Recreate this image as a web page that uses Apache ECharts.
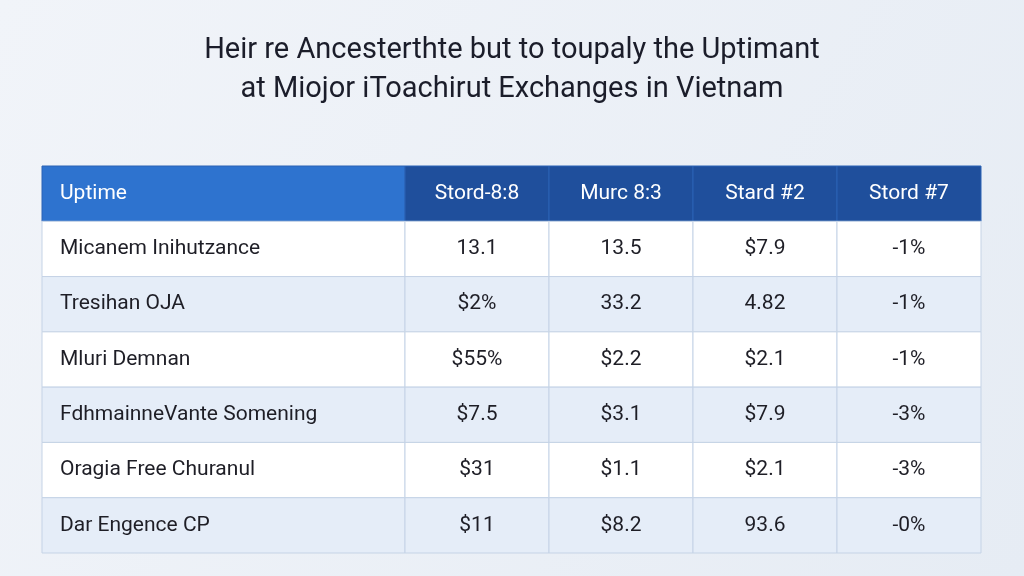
<!DOCTYPE html>
<html><head><meta charset="utf-8">
<script src="https://cdn.jsdelivr.net/npm/echarts@6/dist/echarts.min.js"></script>
<style>html,body{margin:0;padding:0;}#c{width:1024px;height:576px;}</style>
</head><body><div id="c"></div>
<script>
const titleLines = ['Heir re Ancesterthte but to toupaly the Uptimant', 'at Miojor iToachirut Exchanges in Vietnam'];
const headers = ['Uptime', 'Stord-8:8', 'Murc 8:3', 'Stard #2', 'Stord #7'];
const rowNames = ['Micanem Inihutzance', 'Tresihan OJA', 'Mluri Demnan', 'FdhmainneVante Somening', 'Oragia Free Churanul', 'Dar Engence CP'];
const col1 = ['13.1', '$2%', '$55%', '$7.5', '$31', '$11'];
const col2 = ['13.5', '33.2', '$2.2', '$3.1', '$1.1', '$8.2'];
const col3 = ['$7.9', '4.82', '$2.1', '$7.9', '$2.1', '93.6'];
const col4 = ['-1%', '-1%', '-1%', '-3%', '-3%', '-0%'];
const colWidths = [363, 144, 144, 144, 144];

const total = colWidths.reduce((a, b) => a + b, 0);
const edges = [0];
colWidths.forEach(w => edges.push(edges[edges.length - 1] + w / total));

const cells = [];
headers.forEach((h, c) => cells.push([c, 0, h]));
rowNames.forEach((name, r) => {
  [name, col1[r], col2[r], col3[r], col4[r]].forEach((v, c) => cells.push([c, r + 1, v]));
});

const chart = echarts.init(document.getElementById('c'));
chart.setOption({
  backgroundColor: {
    type: 'linear', x: 0, y: 0, x2: 1, y2: 1,
    colorStops: [{ offset: 0, color: '#f1f4f9' }, { offset: 1, color: '#e6ecf4' }]
  },
  title: {
    text: titleLines.join('\n'), left: 'center', top: 26,
    textStyle: { fontFamily: 'Roboto', fontSize: 29, fontWeight: 'normal', color: '#1b1d2a', lineHeight: 39 }
  },
  grid: { left: 42, right: 43, top: 166, bottom: 23 },
  xAxis: { type: 'value', min: 0, max: 1, show: false },
  yAxis: { type: 'value', min: 0, max: rowNames.length + 1, inverse: true, show: false },
  series: [{
    type: 'custom',
    data: cells,
    renderItem(params, api) {
      const c = api.value(0), r = api.value(1);
      const text = cells[params.dataIndex][2];
      const p0 = api.coord([edges[c], r]);
      const p1 = api.coord([edges[c + 1], r + 1]);
      const w = p1[0] - p0[0], h = p1[1] - p0[1];
      let fill;
      if (r === 0) fill = c === 0 ? '#2e73cf' : '#1f4f9c';
      else fill = r % 2 === 1 ? '#ffffff' : '#e5edf8';
      return {
        type: 'group',
        children: [
          { type: 'rect', shape: { x: p0[0], y: p0[1], width: w, height: h },
            style: { fill, stroke: r === 0 ? '#2a62b5' : '#c5d3e6', lineWidth: 1 } },
          { type: 'text',
            style: {
              text, x: c === 0 ? p0[0] + 18 : p0[0] + w / 2, y: p0[1] + h / 2,
              align: c === 0 ? 'left' : 'center', verticalAlign: 'middle',
              fontFamily: 'Roboto', fontSize: 21,
              fill: r === 0 ? '#ffffff' : '#1e1e26'
            } }
        ]
      };
    }
  }]
});
</script></body></html>
